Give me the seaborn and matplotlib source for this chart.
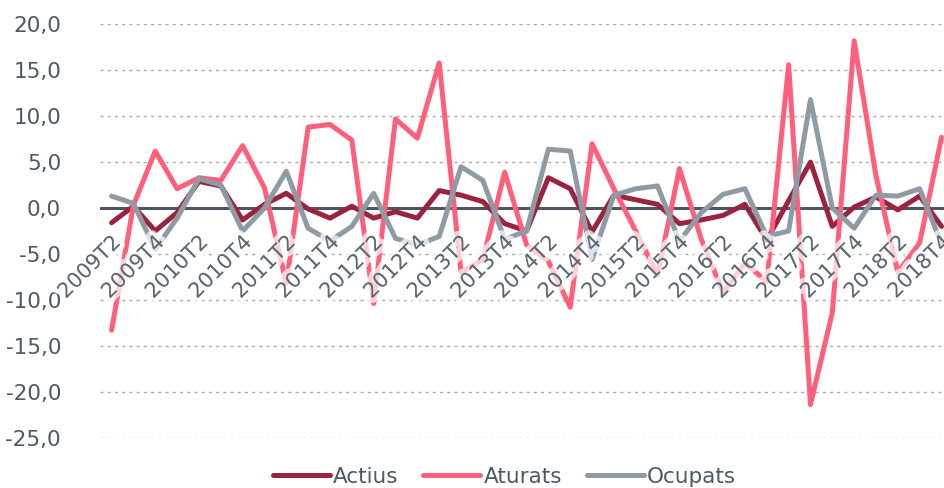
import matplotlib
matplotlib.use("Agg")
import matplotlib.pyplot as plt
import matplotlib.patheffects as pe
import seaborn as sns
import pandas as pd

# quarterly series, 2009T2 .. 2018T4
quarters = ["2009T2", "2009T3", "2009T4"] + [f"{y}T{q}" for y in range(2010, 2019) for q in range(1, 5)]

actius = [-1.6, 0.2, -2.5, -0.5, 2.9, 2.4, -1.3, 0.4, 1.6, -0.1,
          -1.1, 0.2, -1.1, -0.4, -1.1, 1.9, 1.4, 0.7, -1.7, -2.5,
          3.3, 2.1, -2.6, 1.4, 0.9, 0.4, -1.7, -1.3, -0.8, 0.4,
          -3.5, 0.8, 5.0, -2.0, 0.1, 1.2, -0.2, 1.3, -2.0]
aturats = [-13.3, 0.3, 6.2, 2.1, 3.3, 3.0, 6.8, 2.2, -8.2, 8.8,
           9.1, 7.4, -10.4, 9.7, 7.6, 15.8, -7.0, -5.6, 3.9, -4.0,
           -5.8, -10.8, 7.0, 2.1, -2.5, -7.3, 4.3, -3.4, -9.2, -6.0,
           -8.0, 15.6, -21.4, -11.4, 18.2, 3.5, -7.0, -3.8, 7.7]
ocupats = [1.3, 0.5, -4.5, -1.1, 3.2, 2.5, -2.5, 0.0, 4.0, -2.2,
           -3.6, -2.0, 1.6, -3.3, -4.0, -3.1, 4.5, 3.0, -3.4, -2.5,
           6.4, 6.2, -5.6, 1.4, 2.1, 2.4, -3.6, -0.5, 1.5, 2.1,
           -3.1, -2.5, 11.8, 0.0, -2.2, 1.4, 1.3, 2.1, -3.9]

series_names = ["Actius", "Aturats", "Ocupats"]
colors = ["#9b2340", "#ff5f7a", "#8e9ba5"]
yticks = [20, 15, 10, 5, 0, -5, -10, -15, -20, -25]

sns.set_style("white")
plt.rcParams["font.family"] = ["DejaVu Sans"]
text_color = "#4a5a66"

n = len(quarters)
df = pd.DataFrame({
    "idx": list(range(n)) * 3,
    "valor": actius + aturats + ocupats,
    "serie": [s for s in series_names for _ in range(n)],
})

fig = plt.figure(figsize=(9.45, 4.88), dpi=100)
ax = fig.add_axes([100 / 945, 0.1031, 1 - 100 / 945, 0.9502 - 0.1031])

ax.axhline(0, color="#4a5661", linewidth=2.2, zorder=1.5)
sns.lineplot(data=df, x="idx", y="valor", hue="serie", palette=colors,
             linewidth=3.6, sort=False, ax=ax, zorder=2)
for line in ax.get_lines():
    line.set_solid_joinstyle("round")
    line.set_solid_capstyle("round")

ax.set_xlim(-0.53, 38.16)
ax.set_ylim(-25, 20)
ax.set_yticks(yticks)
ax.set_yticklabels([f"{v:.1f}".replace(".", ",") for v in yticks])
ax.tick_params(axis="y", length=0, pad=28, labelsize=15.5, labelcolor=text_color)
ax.set_xticks([])
ax.set_xlabel("")
ax.set_ylabel("")
for s in ax.spines.values():
    s.set_visible(False)
ax.yaxis.grid(True, color="#aaaaaa", linestyle=(0, (2.2, 3)), linewidth=1.0)
ax.set_axisbelow(True)

# category labels sit inside the plot, over the lines, with a soft white halo
for k in range(0, n, 2):
    ax.text(k - 0.05, -2.6, quarters[k], rotation=45, rotation_mode="anchor",
            ha="right", va="top", fontsize=15, color="#5a6872", zorder=5,
            path_effects=[pe.withStroke(linewidth=7, foreground="white", alpha=0.7)])

handles, labels = ax.get_legend_handles_labels()
ax.get_legend().remove()
for h in handles:
    h.set_solid_capstyle("round")
leg = fig.legend(handles, labels, loc="center", bbox_to_anchor=(0.534, 0.0225),
                 ncol=3, frameon=False, fontsize=15.5, handlelength=2.65,
                 handletextpad=0.15, columnspacing=1.15)
for t in leg.get_texts():
    t.set_color(text_color)

fig.savefig("out.png", dpi=100)
plt.close(fig)
